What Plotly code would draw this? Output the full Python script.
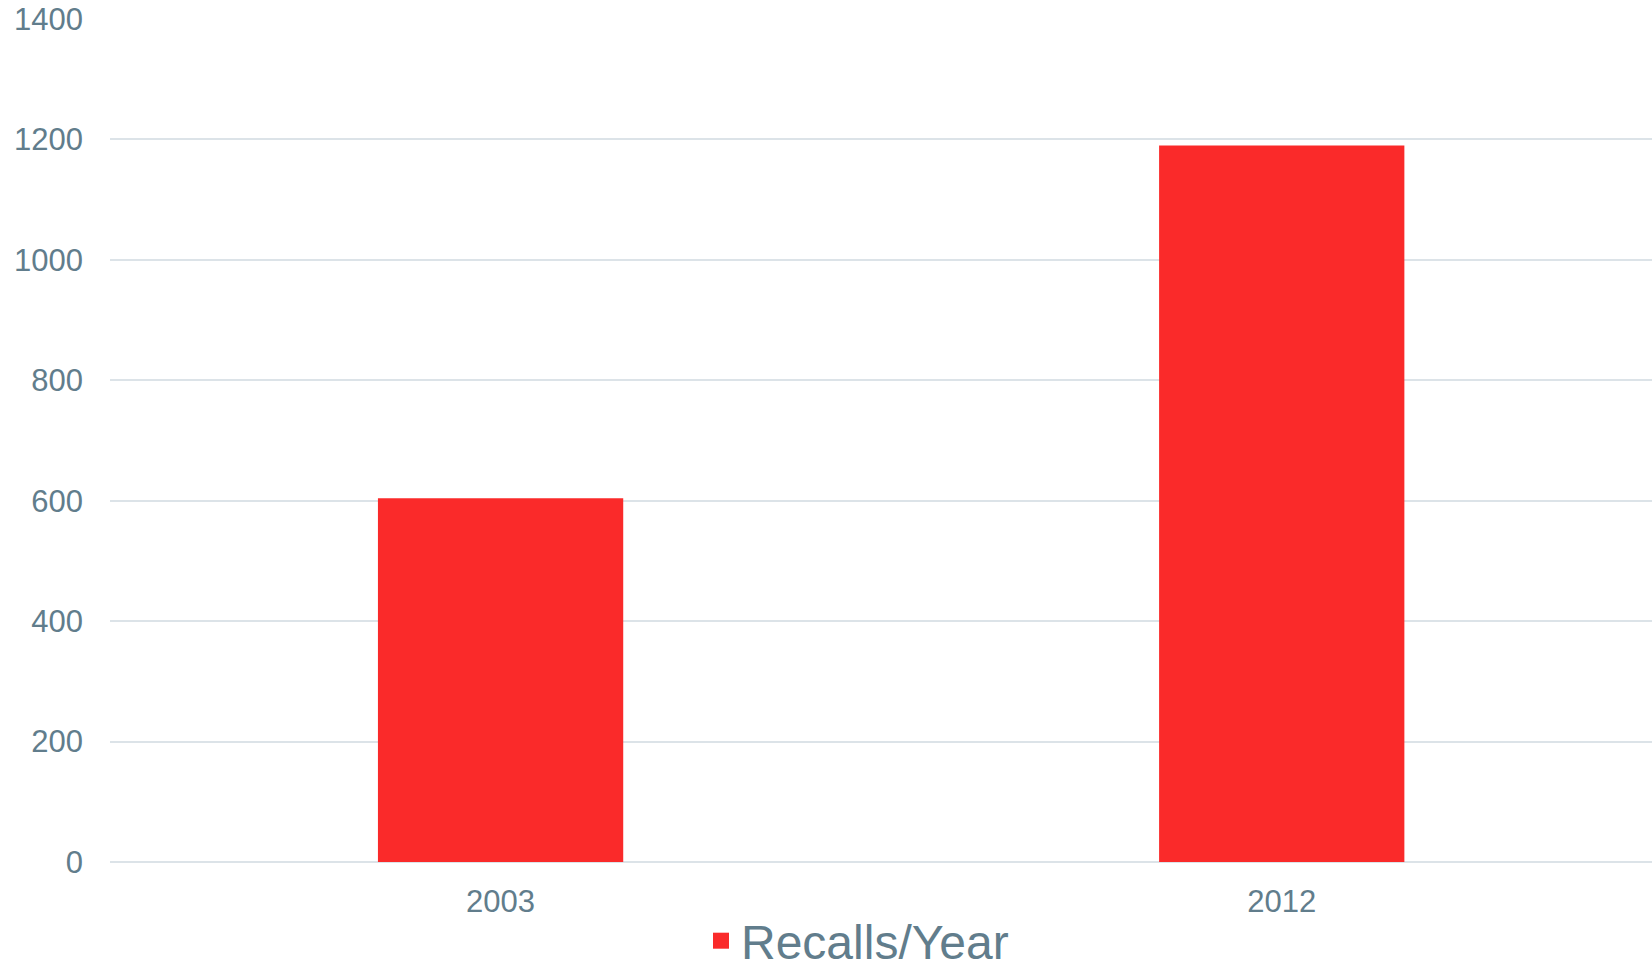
import plotly.graph_objects as go

categories = ["2003", "2012"]
recalls = [604, 1190]
series_name = "Recalls/Year"
y_ticks = [0, 200, 400, 600, 800, 1000, 1200, 1400]

BAR = "#FA2A2A"
TXT = "#617D8C"
GRID = "#DCE3E8"
FONT = "Liberation Sans, Arial, sans-serif"

fig = go.Figure()
fig.add_trace(go.Bar(x=categories, y=recalls, marker=dict(color=BAR, line=dict(width=0)),
                     showlegend=False, name=series_name))
fig.add_trace(go.Scatter(x=[None], y=[None], mode="markers", name=series_name,
                         marker=dict(symbol="square", size=23, color=BAR)))

fig.update_layout(
    width=1652, height=970,
    margin=dict(l=110, r=0, t=19, b=108, autoexpand=False),
    paper_bgcolor="white", plot_bgcolor="white",
    font=dict(family=FONT, color=TXT, size=31),
    bargap=0.686,
    legend=dict(orientation="h", xref="container", x=(741 - 40) / 1652, xanchor="left",
                yref="container", y=(970 - 941) / 970, yanchor="middle",
                font=dict(size=48, color=TXT), itemsizing="trace"),
)
fig.update_xaxes(type="category", range=[-0.5, 1.474], showgrid=False, showline=False,
                 ticks="", zeroline=False, tickfont=dict(size=31, color=TXT), ticklabelstandoff=18)
fig.update_yaxes(range=[0, 1400], tickvals=y_ticks, showgrid=True, gridcolor=GRID, gridwidth=2,
                 zeroline=True, zerolinecolor=GRID, zerolinewidth=2, showline=False, ticks="",
                 tickfont=dict(size=31, color=TXT), ticklabelstandoff=26)

fig.write_html("out.html")
